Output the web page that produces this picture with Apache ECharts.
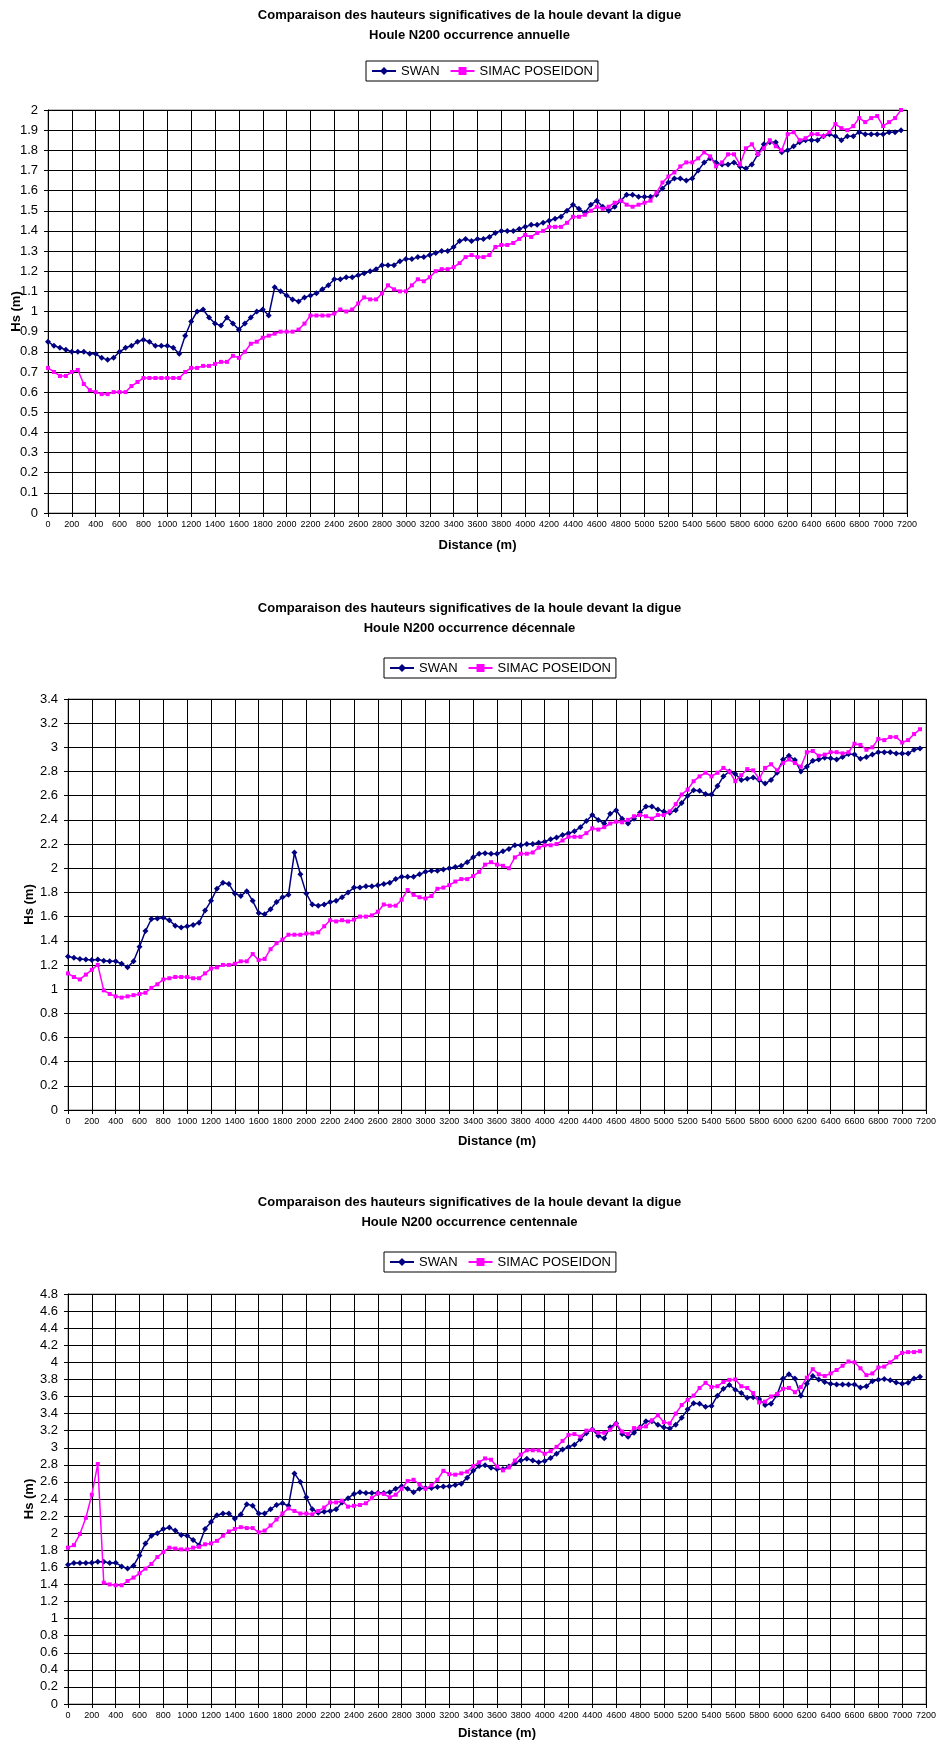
<!DOCTYPE html>
<html>
<head>
<meta charset="utf-8">
<script src="https://cdn.jsdelivr.net/npm/echarts@6/dist/echarts.min.js"></script>
<style>
html,body{margin:0;padding:0;background:#fff;}
#c{width:939px;height:1746px;}
</style>
</head>
<body>
<div id="c"></div>
<script>
// Distance along the breakwater (m)
const distances = [0,50,100,150,200,250,300,350,400,450,500,550,600,650,700,750,800,850,900,950,
1000,1050,1100,1150,1200,1250,1300,1350,1400,1450,1500,1550,1600,1650,1700,1750,1800,1850,1900,1950,
2000,2050,2100,2150,2200,2250,2300,2350,2400,2450,2500,2550,2600,2650,2700,2750,2800,2850,2900,2950,
3000,3050,3100,3150,3200,3250,3300,3350,3400,3450,3500,3550,3600,3650,3700,3750,3800,3850,3900,3950,
4000,4050,4100,4150,4200,4250,4300,4350,4400,4450,4500,4550,4600,4650,4700,4750,4800,4850,4900,4950,
5000,5050,5100,5150,5200,5250,5300,5350,5400,5450,5500,5550,5600,5650,5700,5750,5800,5850,5900,5950,
6000,6050,6100,6150,6200,6250,6300,6350,6400,6450,6500,6550,6600,6650,6700,6750,6800,6850,6900,6950,
7000,7050,7100,7150];

// Houle N200 occurrence annuelle
const swanAnnuelle = [0.85,0.83,0.82,0.81,0.80,0.80,0.80,0.79,0.79,0.77,
0.76,0.77,0.80,0.82,0.83,0.85,0.86,0.85,0.83,0.83,
0.83,0.82,0.79,0.88,0.95,1.00,1.01,0.97,0.94,0.93,
0.97,0.94,0.91,0.94,0.97,1.00,1.01,0.98,1.12,1.10,
1.08,1.06,1.05,1.07,1.08,1.09,1.11,1.13,1.16,1.16,
1.17,1.17,1.18,1.19,1.20,1.21,1.23,1.23,1.23,1.25,
1.26,1.26,1.27,1.27,1.28,1.29,1.30,1.30,1.32,1.35,
1.36,1.35,1.36,1.36,1.37,1.39,1.40,1.40,1.40,1.41,
1.42,1.43,1.43,1.44,1.45,1.46,1.47,1.50,1.53,1.51,
1.49,1.53,1.55,1.52,1.50,1.52,1.55,1.58,1.58,1.57,
1.57,1.57,1.58,1.61,1.64,1.66,1.66,1.65,1.66,1.70,
1.74,1.76,1.74,1.73,1.73,1.74,1.72,1.71,1.73,1.78,
1.83,1.84,1.84,1.79,1.80,1.82,1.84,1.85,1.85,1.85,
1.87,1.88,1.87,1.85,1.87,1.87,1.89,1.88,1.88,1.88,
1.88,1.89,1.89,1.90];
const simacAnnuelle = [0.72,0.70,0.68,0.68,0.70,0.71,0.64,0.61,0.60,0.59,
0.59,0.60,0.60,0.60,0.63,0.65,0.67,0.67,0.67,0.67,
0.67,0.67,0.67,0.70,0.72,0.72,0.73,0.73,0.74,0.75,
0.75,0.78,0.77,0.80,0.84,0.85,0.87,0.88,0.89,0.90,
0.90,0.90,0.91,0.94,0.98,0.98,0.98,0.98,0.99,1.01,
1.00,1.01,1.04,1.07,1.06,1.06,1.09,1.13,1.11,1.10,
1.10,1.13,1.16,1.15,1.17,1.20,1.21,1.21,1.22,1.24,
1.27,1.28,1.27,1.27,1.28,1.32,1.33,1.33,1.34,1.36,
1.38,1.37,1.39,1.40,1.42,1.42,1.42,1.44,1.47,1.47,
1.48,1.50,1.52,1.51,1.52,1.54,1.55,1.53,1.52,1.53,
1.54,1.55,1.59,1.64,1.67,1.69,1.72,1.74,1.74,1.76,
1.79,1.77,1.72,1.74,1.78,1.78,1.73,1.81,1.83,1.78,
1.81,1.85,1.82,1.80,1.88,1.89,1.85,1.86,1.88,1.88,
1.87,1.89,1.93,1.91,1.90,1.92,1.96,1.94,1.96,1.97,
1.92,1.94,1.96,2.00];

// Houle N200 occurrence décennale
const swanDecennale = [1.27,1.26,1.25,1.245,1.24,1.245,1.235,1.23,1.23,1.21,
1.18,1.23,1.35,1.48,1.58,1.585,1.59,1.57,1.525,1.51,
1.52,1.53,1.55,1.65,1.73,1.83,1.88,1.87,1.79,1.77,
1.81,1.73,1.63,1.62,1.66,1.72,1.76,1.78,2.13,1.95,
1.79,1.70,1.69,1.70,1.72,1.73,1.76,1.80,1.84,1.84,
1.85,1.85,1.86,1.87,1.88,1.91,1.93,1.93,1.93,1.95,
1.97,1.98,1.98,1.99,2.00,2.01,2.02,2.05,2.09,2.12,
2.125,2.12,2.12,2.14,2.16,2.19,2.19,2.20,2.20,2.21,
2.22,2.24,2.255,2.275,2.29,2.305,2.34,2.39,2.44,2.40,
2.37,2.45,2.48,2.41,2.37,2.41,2.46,2.51,2.51,2.485,
2.47,2.46,2.48,2.54,2.60,2.645,2.64,2.615,2.61,2.68,
2.76,2.80,2.78,2.73,2.74,2.75,2.73,2.70,2.73,2.79,
2.90,2.93,2.895,2.80,2.84,2.89,2.90,2.915,2.91,2.90,
2.92,2.945,2.94,2.905,2.92,2.94,2.96,2.96,2.96,2.95,
2.95,2.95,2.98,2.99];
const simacDecennale = [1.13,1.10,1.08,1.12,1.16,1.20,0.99,0.96,0.94,0.93,
0.94,0.95,0.96,0.97,1.01,1.04,1.08,1.09,1.10,1.10,
1.10,1.09,1.09,1.13,1.17,1.18,1.20,1.20,1.21,1.23,
1.23,1.29,1.24,1.25,1.33,1.38,1.41,1.45,1.45,1.45,
1.46,1.46,1.47,1.52,1.57,1.56,1.57,1.56,1.575,1.60,
1.60,1.61,1.64,1.70,1.69,1.69,1.74,1.82,1.78,1.76,
1.75,1.77,1.83,1.84,1.86,1.89,1.91,1.91,1.935,1.97,
2.03,2.05,2.03,2.02,2.00,2.09,2.12,2.12,2.13,2.17,
2.19,2.19,2.20,2.23,2.26,2.26,2.26,2.29,2.33,2.32,
2.34,2.37,2.385,2.38,2.40,2.43,2.44,2.43,2.41,2.44,
2.44,2.47,2.53,2.61,2.65,2.72,2.76,2.79,2.76,2.79,
2.83,2.80,2.72,2.77,2.82,2.81,2.74,2.83,2.86,2.81,
2.87,2.90,2.87,2.84,2.96,2.97,2.93,2.94,2.96,2.96,
2.95,2.96,3.03,3.02,2.98,3.00,3.07,3.06,3.085,3.085,
3.04,3.06,3.11,3.15];

// Houle N200 occurrence centennale
const swanCentennale = [1.63,1.65,1.65,1.65,1.655,1.665,1.665,1.65,1.655,1.61,
1.585,1.62,1.74,1.88,1.97,2.00,2.05,2.065,2.03,1.98,
1.97,1.92,1.86,2.05,2.13,2.21,2.23,2.23,2.17,2.22,
2.34,2.32,2.23,2.23,2.28,2.33,2.35,2.32,2.70,2.60,
2.42,2.28,2.24,2.25,2.26,2.28,2.36,2.41,2.46,2.48,
2.47,2.47,2.47,2.47,2.48,2.52,2.55,2.52,2.48,2.52,
2.53,2.53,2.54,2.545,2.55,2.565,2.58,2.65,2.73,2.785,
2.795,2.765,2.75,2.75,2.78,2.82,2.85,2.87,2.85,2.83,
2.845,2.88,2.93,2.98,3.01,3.035,3.10,3.17,3.215,3.14,
3.11,3.24,3.285,3.16,3.13,3.175,3.24,3.31,3.31,3.27,
3.24,3.225,3.27,3.35,3.45,3.52,3.515,3.48,3.49,3.61,
3.69,3.735,3.68,3.64,3.585,3.59,3.57,3.50,3.515,3.62,
3.81,3.86,3.81,3.61,3.75,3.84,3.80,3.77,3.75,3.74,
3.74,3.74,3.74,3.705,3.72,3.78,3.795,3.805,3.79,3.765,
3.75,3.76,3.81,3.83];
const simacCentennale = [1.83,1.86,1.99,2.18,2.45,2.81,1.42,1.40,1.39,1.39,
1.44,1.48,1.53,1.585,1.64,1.72,1.78,1.83,1.82,1.81,
1.81,1.83,1.84,1.87,1.88,1.91,1.97,2.02,2.05,2.07,
2.06,2.06,2.01,2.03,2.09,2.16,2.23,2.29,2.26,2.23,
2.23,2.22,2.26,2.30,2.36,2.36,2.38,2.31,2.32,2.33,
2.35,2.41,2.465,2.46,2.42,2.45,2.52,2.61,2.625,2.57,
2.52,2.56,2.625,2.73,2.69,2.685,2.70,2.72,2.785,2.83,
2.875,2.86,2.78,2.735,2.77,2.85,2.92,2.97,2.97,2.97,
2.93,2.96,3.01,3.08,3.15,3.16,3.13,3.20,3.21,3.175,
3.175,3.21,3.28,3.19,3.16,3.23,3.235,3.25,3.32,3.38,
3.30,3.285,3.40,3.50,3.56,3.61,3.70,3.76,3.71,3.72,
3.77,3.795,3.80,3.72,3.70,3.64,3.53,3.54,3.60,3.63,
3.69,3.70,3.65,3.71,3.82,3.92,3.86,3.84,3.87,3.91,
3.96,4.01,4.00,3.93,3.85,3.87,3.94,3.95,4.00,4.06,
4.11,4.12,4.12,4.13];

const titleMain = 'Comparaison des hauteurs significatives de la houle devant la digue';
const subTitles = ['Houle N200 occurrence annuelle', 'Houle N200 occurrence décennale', 'Houle N200 occurrence centennale'];
const seriesNames = ['SWAN', 'SIMAC POSEIDON'];
const yMax = [2, 3.4, 4.8];
const yStep = [0.1, 0.2, 0.2];
const xMin = 0, xMax = 7200, xStep = 200;

const FONT = "'Liberation Sans', Arial, Helvetica, sans-serif";

// layout
const grids = [
  {left: 48, top: 110, width: 859, height: 403},
  {left: 68, top: 699, width: 859, height: 411},
  {left: 68, top: 1294, width: 859, height: 410}
];
const titleTops = [5, 598, 1192];
const legendPos = [{left: 366, top: 61}, {left: 384, top: 658}, {left: 384, top: 1252}];
const yNameGap = [25, 32, 32];
const xNameGap = [26, 25, 23];

const seriesData = [
  [swanAnnuelle, simacAnnuelle],
  [swanDecennale, simacDecennale],
  [swanCentennale, simacCentennale]
];

const plainNum = v => String(Math.round(v * 1000) / 1000);

const option = {
  animation: false,
  backgroundColor: '#fff',
  textStyle: {fontFamily: FONT},
  title: titleTops.map((t, i) => ({
    text: titleMain + '\n' + subTitles[i],
    left: 'center', top: t, padding: 0,
    textStyle: {fontSize: 13, fontWeight: 'bold', color: '#000', lineHeight: 20, fontFamily: FONT}
  })),
  legend: legendPos.map((p) => ({
    data: seriesNames,
    left: p.left, top: p.top,
    orient: 'horizontal',
    padding: [3, 5], itemGap: 10, itemWidth: 24, itemHeight: 10,
    borderColor: '#000', borderWidth: 1, borderRadius: 0,
    selectedMode: false,
    textStyle: {fontSize: 13, color: '#000', fontFamily: FONT, lineHeight: 14}
  })),
  grid: grids.map(g => Object.assign({show: true, borderColor: '#808080', borderWidth: 1, backgroundColor: '#fff', containLabel: false}, g)),
  xAxis: grids.map((g, i) => ({
    type: 'value', gridIndex: i, min: xMin, max: xMax, interval: xStep,
    name: 'Distance (m)', nameLocation: 'middle', nameGap: xNameGap[i], nameMoveOverlap: false,
    nameTextStyle: {fontSize: 13, fontWeight: 'bold', color: '#000', fontFamily: FONT},
    axisLine: {show: true, onZero: false, lineStyle: {color: '#000', width: 1}},
    axisTick: {show: true, inside: false, length: 4, lineStyle: {color: '#000'}},
    axisLabel: {fontSize: 9, color: '#000', margin: 7, hideOverlap: false, showMinLabel: true, showMaxLabel: true, fontFamily: FONT, formatter: plainNum},
    splitLine: {show: true, lineStyle: {color: '#000', width: 1}}
  })),
  yAxis: grids.map((g, i) => ({
    type: 'value', gridIndex: i, min: 0, max: yMax[i], interval: yStep[i],
    name: 'Hs (m)', nameLocation: 'middle', nameGap: yNameGap[i], nameRotate: 90, nameMoveOverlap: false,
    nameTextStyle: {fontSize: 13, fontWeight: 'bold', color: '#000', fontFamily: FONT},
    axisLine: {show: true, onZero: false, lineStyle: {color: '#000', width: 1}},
    axisTick: {show: true, inside: false, length: 4, lineStyle: {color: '#000'}},
    axisLabel: {fontSize: 13, color: '#000', margin: 10, hideOverlap: false, showMinLabel: true, showMaxLabel: true, fontFamily: FONT, formatter: plainNum},
    splitLine: {show: true, lineStyle: {color: '#000', width: 1}}
  })),
  series: []
};

seriesData.forEach((pair, i) => {
  option.series.push({
    name: seriesNames[0], type: 'line', xAxisIndex: i, yAxisIndex: i,
    data: distances.map((d, k) => [d, pair[0][k]]),
    symbol: 'diamond', symbolSize: 6, showAllSymbol: true,
    itemStyle: {color: '#000080'},
    lineStyle: {color: '#000080', width: 1.5},
    z: 3
  });
  option.series.push({
    name: seriesNames[1], type: 'line', xAxisIndex: i, yAxisIndex: i,
    data: distances.map((d, k) => [d, pair[1][k]]),
    symbol: 'rect', symbolSize: 4, showAllSymbol: true,
    itemStyle: {color: '#FF00FF'},
    lineStyle: {color: '#FF00FF', width: 1.5},
    z: 4
  });
});

const chart = echarts.init(document.getElementById('c'), null, {renderer: 'canvas', width: 939, height: 1746});
chart.setOption(option);
</script>
</body>
</html>
